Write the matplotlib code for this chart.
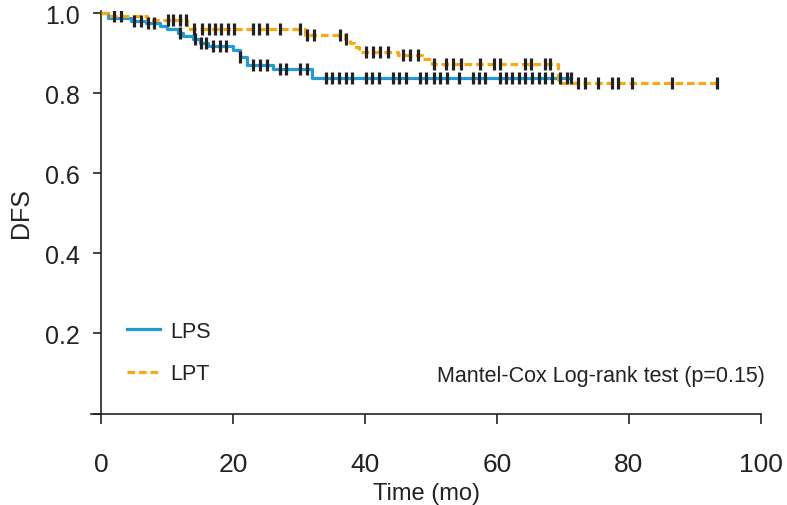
import numpy as np
import matplotlib.pyplot as plt

# Kaplan-Meier step data
lps_times = [0, 1.0, 4.6, 6.8, 8.9, 10.0, 11.7, 12.4, 13.9, 15.0, 16.2, 20.0, 21.0, 22.1, 26.1, 31.9, 71.3]
lps_surv = [1.0, 0.988, 0.982, 0.975, 0.968, 0.962, 0.952, 0.944, 0.936, 0.927, 0.918, 0.909, 0.892, 0.872, 0.862, 0.839, 0.839]
lps_censor = [5.0, 6.0, 7.1, 8.0, 12.0, 14.2, 15.2, 15.9, 17.0, 18.0, 19.0, 21.0, 23.1, 24.1, 25.1, 27.1, 28.1,
              30.2, 31.2, 34.1, 35.0, 36.1, 37.1, 38.1, 40.1, 41.1, 42.1, 44.2, 45.2, 46.2, 48.3, 49.3, 50.4,
              51.4, 52.4, 54.3, 56.3, 57.3, 58.2, 60.4, 61.3, 62.3, 63.3, 64.3, 65.3, 66.3, 67.3, 68.3, 69.5,
              70.6, 71.3]

lpt_times = [0, 1.0, 7.0, 13.0, 30.9, 37.0, 37.7, 38.3, 39.1, 45.0, 48.6, 50.1, 69.2, 93.5]
lpt_surv = [1.0, 0.993, 0.984, 0.962, 0.947, 0.937, 0.926, 0.916, 0.904, 0.895, 0.887, 0.874, 0.826, 0.826]
lpt_censor = [2.0, 3.0, 10.2, 10.9, 11.9, 12.9, 14.1, 15.3, 16.3, 17.3, 18.2, 19.3, 20.2, 23.1, 24.0, 25.1,
              27.1, 30.2, 31.2, 32.2, 36.2, 37.1, 40.2, 41.2, 42.3, 43.5, 45.8, 46.9, 48.1, 50.4, 52.3, 53.4,
              54.5, 57.4, 59.5, 60.4, 64.3, 65.2, 67.3, 68.1, 72.3, 73.3, 75.3, 77.4, 78.3, 80.4, 86.5, 93.3]

xticks = [0, 20, 40, 60, 80, 100]
yticks = [0.2, 0.4, 0.6, 0.8, 1.0]

blue = '#1f9bd7'
orange = '#f7aa0a'
ink = '#222222'
narrow = ['Liberation Sans Narrow', 'Liberation Sans', 'DejaVu Sans']
arial = ['Liberation Sans', 'DejaVu Sans']


def surv_at(times, surv, t):
    i = np.searchsorted(times, t, side='right') - 1
    return surv[max(i, 0)]


fig = plt.figure(figsize=(7.87, 5.06), dpi=100)
ax = fig.add_axes([0.1158, 0.1808, 0.851, 0.7955])

ax.step(lps_times, lps_surv, where='post', color=blue, lw=2.3, label='LPS', zorder=2)
ax.step(lpt_times, lpt_surv, where='post', color=orange, lw=2.3, dashes=(2.4, 1.2), label='LPT', zorder=3)

ax.plot(lps_censor, [surv_at(lps_times, lps_surv, t) for t in lps_censor], ls='none',
        marker='|', ms=8, mew=2.3, color=ink, zorder=4)
ax.plot(lpt_censor, [surv_at(lpt_times, lpt_surv, t) for t in lpt_censor], ls='none',
        marker='|', ms=8, mew=2.3, color=ink, zorder=4)

ax.set_xlim(-1.5, 100)
ax.set_ylim(0, 1.006)
ax.spines['top'].set_visible(False)
ax.spines['right'].set_visible(False)
ax.spines['left'].set_position(('data', 0))
for s in ['left', 'bottom']:
    ax.spines[s].set_linewidth(1.2)
    ax.spines[s].set_color(ink)

ax.set_xticks(xticks)
ax.set_xticklabels([str(v) for v in xticks], family=narrow, fontsize=19, color=ink)
ax.set_yticks([0.0] + yticks)
ax.set_yticklabels([''] + ['%.1f' % v for v in yticks], family=arial, fontsize=18, color=ink)
ax.tick_params(axis='x', length=7, width=1.2, pad=21, color=ink)
ax.tick_params(axis='y', length=6, width=1.2, pad=9, color=ink)

ax.set_xlabel('Time (mo)', family=narrow, fontsize=17, color=ink, labelpad=4)
ax.set_ylabel('DFS', family=arial, fontsize=18, color=ink, labelpad=9)

leg = ax.legend(loc='lower left', bbox_to_anchor=(0.025, 0.025), frameon=False, handlelength=1.5,
                handletextpad=0.5, labelspacing=1.0, prop={'family': narrow, 'size': 15.5})
for t in leg.get_texts():
    t.set_color(ink)

ax.text(1.006, 0.095, 'Mantel-Cox Log-rank test (p=0.15)', transform=ax.transAxes, ha='right', va='center',
        family=narrow, fontsize=15.5, color=ink)

fig.savefig('out.png', dpi=100)
